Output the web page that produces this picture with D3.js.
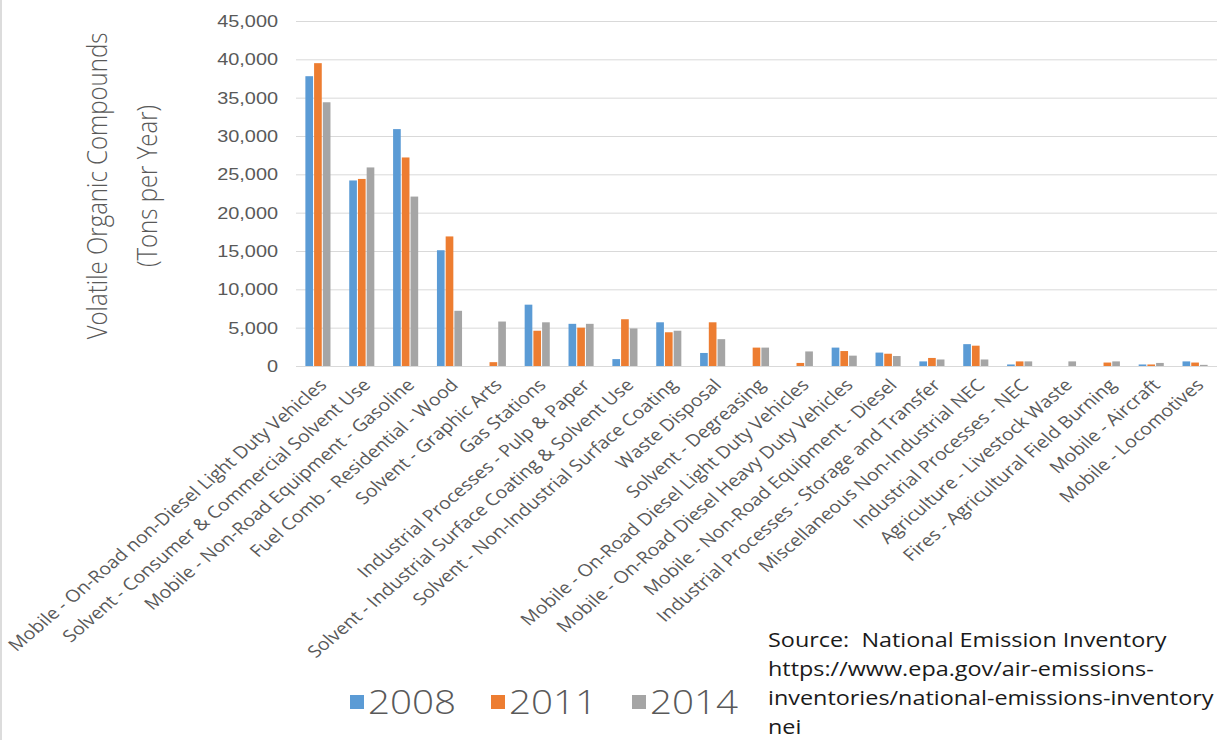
<!DOCTYPE html>
<html>
<head>
<meta charset="utf-8">
<script src="https://cdn.jsdelivr.net/npm/d3@7"></script>
<style>
  body { margin: 0; background: #fff; }
  svg { display: block; font-family: "Open Sans", "Noto Sans", sans-serif; }
  .grid line { stroke: #d9d9d9; }
  .grid text { fill: #595959; font-size: 17px; }
  .source { white-space: pre; }
</style>
</head>
<body>
<div id="chart"></div>
<script>
const categories = [
  'Mobile - On-Road non-Diesel Light Duty Vehicles',
  'Solvent - Consumer & Commercial Solvent Use',
  'Mobile - Non-Road Equipment - Gasoline',
  'Fuel Comb - Residential - Wood',
  'Solvent - Graphic Arts',
  'Gas Stations',
  'Industrial Processes - Pulp & Paper',
  'Solvent - Industrial Surface Coating & Solvent Use',
  'Solvent - Non-Industrial Surface Coating',
  'Waste Disposal',
  'Solvent - Degreasing',
  'Mobile - On-Road Diesel Light Duty Vehicles',
  'Mobile - On-Road Diesel Heavy Duty Vehicles',
  'Mobile - Non-Road Equipment - Diesel',
  'Industrial Processes - Storage and Transfer',
  'Miscellaneous Non-Industrial NEC',
  'Industrial Processes - NEC',
  'Agriculture - Livestock Waste',
  'Fires - Agricultural Field Burning',
  'Mobile - Aircraft',
  'Mobile - Locomotives'
];
const years = ['2008', '2011', '2014'];
const values2008 = [37800, 24200, 30900, 15100, 0, 8000, 5500, 900, 5700, 1700, 0, 0, 2400, 1750, 600, 2850, 200, 0, 0, 200, 600];
const values2011 = [39500, 24400, 27200, 16900, 500, 4600, 5000, 6100, 4400, 5700, 2400, 400, 1950, 1600, 1050, 2650, 600, 0, 450, 200, 450];
const values2014 = [34400, 25900, 22100, 7200, 5800, 5700, 5500, 4900, 4600, 3500, 2400, 1900, 1350, 1300, 850, 850, 600, 600, 600, 400, 150];
const yTicks = [0, 5000, 10000, 15000, 20000, 25000, 30000, 35000, 40000, 45000];
const yTitle = ['Volatile Organic Compounds', '(Tons per Year)'];
const sourceLines = [
  'Source:  National Emission Inventory',
  'https://www.epa.gov/air-emissions-',
  'inventories/national-emissions-inventory',
  'nei'
];

const colors = ['#5b9bd5', '#ed7d31', '#a5a5a5'];
const series = [values2008, values2011, values2014];

// the original picture is a bit wider than tall, so text is stretched sideways
const sx = 1.17;

const width = 1217, height = 740;
const margin = { top: 21, right: 0, bottom: 374, left: 296 };
const innerW = width - margin.left - margin.right;
const innerH = height - margin.top - margin.bottom;

const svg = d3.select('#chart').append('svg')
  .attr('width', width)
  .attr('height', height);

// faint frame on the left edge
svg.append('line')
  .attr('x1', 1).attr('x2', 1).attr('y1', 0).attr('y2', height)
  .attr('stroke', '#dcdcdc').attr('stroke-width', 2);

const chart = svg.append('g')
  .attr('transform', 'translate(' + margin.left + ',' + margin.top + ')');

const x0 = d3.scaleBand().domain(categories).range([0, innerW])
  .paddingInner(0.38).paddingOuter(0.19);
const x1 = d3.scaleBand().domain(years).range([0, x0.bandwidth()]).padding(0.12);
const y = d3.scaleLinear().domain([0, 45000]).range([innerH, 0]);

const yAxis = d3.axisLeft(y)
  .tickValues(yTicks)
  .tickSize(-innerW)
  .tickPadding(18)
  .tickFormat(d3.format(','));

chart.append('g')
  .attr('class', 'grid')
  .call(yAxis)
  .call(g => g.select('.domain').remove())
  .call(g => g.selectAll('.tick text')
    .attr('transform', 'scale(' + sx + ',1)')
    .attr('x', -18 / sx));

const groups = chart.selectAll('.cat')
  .data(categories)
  .enter().append('g')
  .attr('class', 'cat')
  .attr('transform', d => 'translate(' + x0(d) + ',0)');

groups.selectAll('rect')
  .data((d, i) => years.map((yr, s) => ({ yr: yr, s: s, v: series[s][i] })))
  .enter().append('rect')
  .attr('x', d => x1(d.yr))
  .attr('y', d => y(d.v))
  .attr('width', x1.bandwidth())
  .attr('height', d => innerH - y(d.v))
  .attr('fill', d => colors[d.s]);

// rotated category labels
chart.selectAll('.xlabel')
  .data(categories)
  .enter().append('text')
  .attr('class', 'xlabel')
  .attr('transform', d => 'translate(' + (x0(d) + x0.bandwidth() / 2 + 5) + ',' + (innerH + 16) + ') scale(' + sx + ',1) rotate(-45)')
  .attr('text-anchor', 'end')
  .attr('dy', '0.35em')
  .attr('fill', '#595959')
  .style('font-size', '16.8px')
  .text(d => d);

// y title
svg.append('g')
  .attr('transform', 'translate(0,186)')
  .selectAll('text')
  .data(yTitle)
  .enter().append('text')
  .attr('transform', (d, i) => 'translate(' + (107 + i * 50) + ',0) scale(' + sx + ',1) rotate(-90)')
  .attr('text-anchor', 'middle')
  .attr('fill', '#595959')
  .style('font-size', '24px')
  .style('font-weight', 300)
  .text(d => d);

// legend
const legend = svg.append('g').attr('transform', 'translate(350,702)');
const item = legend.selectAll('g')
  .data(years)
  .enter().append('g')
  .attr('transform', (d, i) => 'translate(' + (i * 141) + ',0)');
item.append('rect')
  .attr('x', 0).attr('y', -7)
  .attr('width', 14).attr('height', 14)
  .attr('fill', (d, i) => colors[i]);
item.append('text')
  .attr('transform', 'translate(18,0) scale(' + sx + ',1)')
  .attr('dy', '0.35em')
  .attr('fill', '#595959')
  .style('font-size', '33px')
  .style('font-weight', 300)
  .text(d => d);

// source note
svg.append('g')
  .selectAll('text')
  .data(sourceLines)
  .enter().append('text')
  .attr('class', 'source')
  .attr('transform', (d, i) => 'translate(768,' + (647 + i * 29) + ') scale(' + sx + ',1)')
  .attr('fill', '#1a1a1a')
  .style('font-size', '20px')
  .text(d => d);
</script>
</body>
</html>
